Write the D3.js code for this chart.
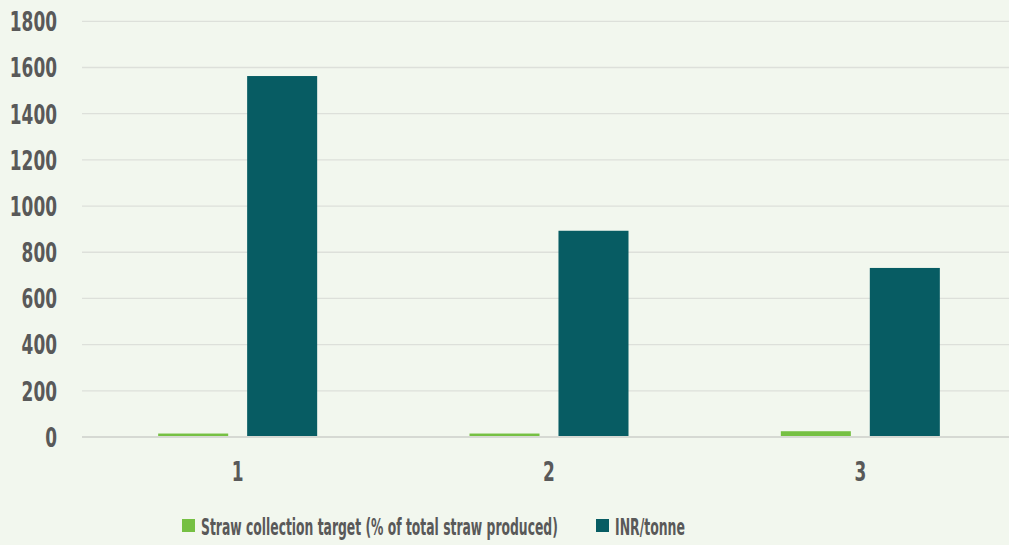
<!DOCTYPE html>
<html lang="en">
<head>
<meta charset="utf-8">
<title>Straw collection</title>
<script src="https://d3js.org/d3.v7.min.js"></script>
<style>
  body { margin: 0; background: #f2f7ee; }
  text { font-family: "DejaVu Sans", sans-serif; font-stretch: condensed; font-weight: bold; fill: #595959; }
</style>
</head>
<body>
<div id="chart"></div>
<script>
// chart values
var categories = ["1", "2", "3"];
var seriesNames = ["Straw collection target (% of total straw produced)", "INR/tonne"];
var strawTarget = [15, 15, 25];
var inrPerTonne = [1563, 893, 732];
var yTicks = [0, 200, 400, 600, 800, 1000, 1200, 1400, 1600, 1800];

var w = 1009, h = 545;
var colors = ["#76c043", "#075c63"];
var digitW = 11.8; // the original face is very narrow

var svg = d3.select("#chart").append("svg")
  .attr("width", w)
  .attr("height", h);

svg.append("rect").attr("width", w).attr("height", h).attr("fill", "#f2f7ee");

// plot area runs a little past the right edge, as in the original
var plotLeft = 82, plotRight = 1016, plotTop = 21.3, plotBottom = 437;

var x = d3.scaleBand().domain(categories).range([plotLeft, plotRight]).paddingInner(0).paddingOuter(0);
var x1 = d3.scaleBand().domain([0, 1]).range([0, x.bandwidth()]).paddingInner(0.213).paddingOuter(0.856);
var y = d3.scaleLinear().domain([0, 1800]).range([plotBottom, plotTop]);

// gridlines
svg.append("g").selectAll("line")
  .data(yTicks)
  .enter().append("line")
  .attr("x1", plotLeft).attr("x2", plotRight)
  .attr("y1", function(d){ return y(d); })
  .attr("y2", function(d){ return y(d); })
  .attr("stroke", function(d){ return d == 0 ? "#d6d9d3" : "#dde0da"; })
  .attr("stroke-width", function(d){ return d == 0 ? 2 : 1.3; });

// y labels
var yAxis = d3.axisLeft(y).tickValues(yTicks).tickFormat(d3.format("d")).tickSize(0).tickPadding(0);
var gy = svg.append("g").attr("transform", "translate(57,0)").call(yAxis);
gy.select(".domain").remove();
gy.selectAll("text")
  .style("font-size", "26px")
  .attr("dy", "0.36em")
  .attr("textLength", function(d){ return String(d).length * digitW; })
  .attr("lengthAdjust", "spacingAndGlyphs");

// x labels
var xAxis = d3.axisBottom(x).tickSize(0).tickPadding(0);
var gx = svg.append("g").attr("transform", "translate(0,462)").call(xAxis);
gx.select(".domain").remove();
gx.selectAll("text")
  .style("font-size", "26px")
  .attr("dy", "0.72em")
  .attr("textLength", function(d){ return d.length * digitW; })
  .attr("lengthAdjust", "spacingAndGlyphs");

// bars
var data = categories.map(function(c, i){ return {cat: c, vals: [strawTarget[i], inrPerTonne[i]]}; });
var groups = svg.append("g").selectAll("g")
  .data(data)
  .enter().append("g")
  .attr("transform", function(d){ return "translate(" + x(d.cat) + ",0)"; });

groups.selectAll("rect")
  .data(function(d){ return d.vals.map(function(v, k){ return {k: k, v: v}; }); })
  .enter().append("rect")
  .attr("x", function(d){ return x1(d.k); })
  .attr("width", x1.bandwidth())
  .attr("y", function(d){ return y(d.v); })
  .attr("height", function(d){ return plotBottom - 1 - y(d.v); })
  .attr("fill", function(d){ return colors[d.k]; });

// legend - squeeze each label horizontally to the narrow width of the original
var legend = svg.append("g");
var legendX = [182, 596];
var legendW = [357, 70];
seriesNames.forEach(function(name, i){
  legend.append("rect")
    .attr("x", legendX[i]).attr("y", 519)
    .attr("width", 13).attr("height", 13)
    .attr("fill", colors[i]);
  var t = legend.append("text")
    .style("font-size", "23px")
    .text(name);
  var sx = legendW[i] / t.node().getComputedTextLength();
  t.attr("transform", "translate(" + (legendX[i] + 19) + ",535) scale(" + sx + ",1)");
});
</script>
</body>
</html>
